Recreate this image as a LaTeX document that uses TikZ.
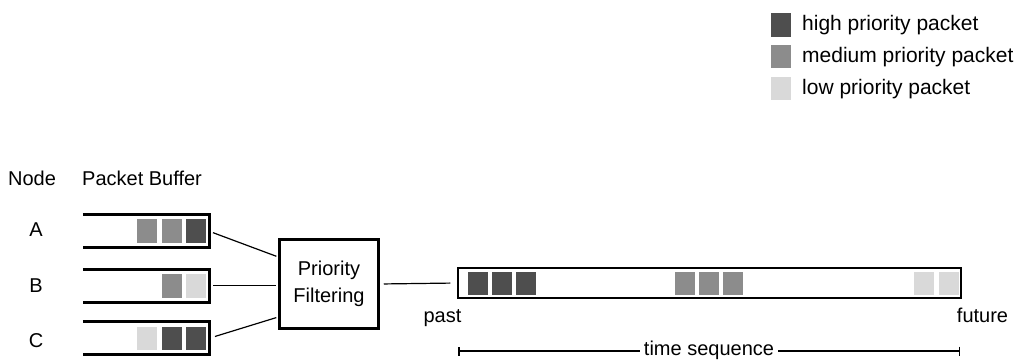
\documentclass[tikz,border=0pt]{standalone}
\usepackage{fontspec}
\setmainfont{Liberation Sans}
\usetikzlibrary{arrows.meta}

\definecolor{pkthigh}{HTML}{4E4E4E}
\definecolor{pktmed}{HTML}{8C8C8C}
\definecolor{pktlow}{HTML}{D9D9D9}

\begin{document}
\begin{tikzpicture}[x=1pt, y=-1pt,
  txt/.style={inner sep=0pt, font=\fontsize{20}{27}\selectfont},
  legtxt/.style={inner sep=0pt, font=\fontsize{21}{25}\selectfont, anchor=base west},
  pkt/.style={inner sep=0pt, minimum width=20pt, minimum height=23.5pt},
  high/.style={pkt, fill=pkthigh},
  medium/.style={pkt, fill=pktmed},
  low/.style={pkt, fill=pktlow},
  bufbox/.style={inner sep=0pt, minimum width=126pt, minimum height=32.5pt},
  bufline/.style={line width=3pt, line join=miter, line cap=butt},
  link/.style={line width=1.2pt},
  tsline/.style={line width=1.5pt},
]
\useasboundingbox (0,0) rectangle (1022,363);
\fill[white] (0,0) rectangle (1022,363);

% legend
\node[high]   (keyH) at (781, 25)   {};
\node[medium] (keyM) at (781, 56.5) {};
\node[low]    (keyL) at (781, 88.5) {};
\node[legtxt] (keyHt) at (802, 31) {high priority packet};
\node[legtxt] (keyMt) at (802, 63) {medium priority packet};
\node[legtxt] (keyLt) at (802, 95) {low priority packet};

% column headers
\node[txt, anchor=base]      (hNode) at (32, 186) {Node};
\node[txt, anchor=base west] (hBuf)  at (82, 186) {Packet Buffer};

% node names
\node[txt] (nA) at (36, 230) {A};
\node[txt] (nB) at (36, 286) {B};
\node[txt] (nC) at (36, 341) {C};

% packet buffers (open on the left)
\node[bufbox] (bufA) at (146, 231.25) {};
\node[bufbox] (bufB) at (146, 285.75) {};
\node[bufbox] (bufC) at (146, 338.25) {};
\foreach \b in {bufA,bufB,bufC}
  \draw[bufline] (\b.north west) -- (\b.north east) -- (\b.south east) -- (\b.south west);

% buffered packets
\node[medium] (a1) at (147,   231.25) {};
\node[medium] (a2) at (171.5, 231.25) {};
\node[high]   (a3) at (195.5, 231.25) {};
\node[medium] (b2) at (171.5, 285.75) {};
\node[low]    (b3) at (195.5, 285.75) {};
\node[low]    (c1) at (147,   338.25) {};
\node[high]   (c2) at (171.5, 338.25) {};
\node[high]   (c3) at (195.5, 338.25) {};

% filter
\node[txt, draw, line width=3pt, minimum width=98.5pt, minimum height=88.5pt,
      align=center] (filter) at (329, 284) {Priority\\Filtering};

\draw[link, shorten <=4pt, shorten >=2pt] (bufA.east) -- ([yshift=27pt]filter.west);
\draw[link, shorten <=4pt, shorten >=2pt] (bufB.east) -- (bufB.east -| filter.west);
\draw[link, shorten <=6pt, shorten >=2pt] (bufC.east) -- ([yshift=-33pt]filter.west);

% output time line
\node[draw, line width=2pt, inner sep=0pt, minimum width=502.7pt,
      minimum height=29.4pt] (timeline) at (709.6, 283) {};
\draw[link, shorten <=4pt, shorten >=7pt] (filter.east) -- (timeline.west);

\node[high]   (t1) at (478, 283.5) {};
\node[high]   (t2) at (502, 283.5) {};
\node[high]   (t3) at (526, 283.5) {};
\node[medium] (t4) at (684.5, 283.5) {};
\node[medium] (t5) at (708.5, 283.5) {};
\node[medium] (t6) at (732.5, 283.5) {};
\node[low]    (t7) at (924.4, 283.5) {};
\node[low]    (t8) at (949, 283.5) {};

\node[txt, anchor=base] (past)   at (442.5, 322) {past};
\node[txt, anchor=base] (future) at (982.5, 322) {future};

% time axis
\coordinate (tsL) at (458, 351);
\coordinate (tsR) at (960, 351);
\node[txt, anchor=base] (ts) at (709, 355.5) {time sequence};
\draw[tsline, {Bar[width=9pt]}-, shorten >=4pt] (tsL) -- (tsL -| ts.west);
\draw[tsline, -{Bar[width=9pt]}, shorten <=4pt] (tsR -| ts.east) -- (tsR);
\end{tikzpicture}
\end{document}
